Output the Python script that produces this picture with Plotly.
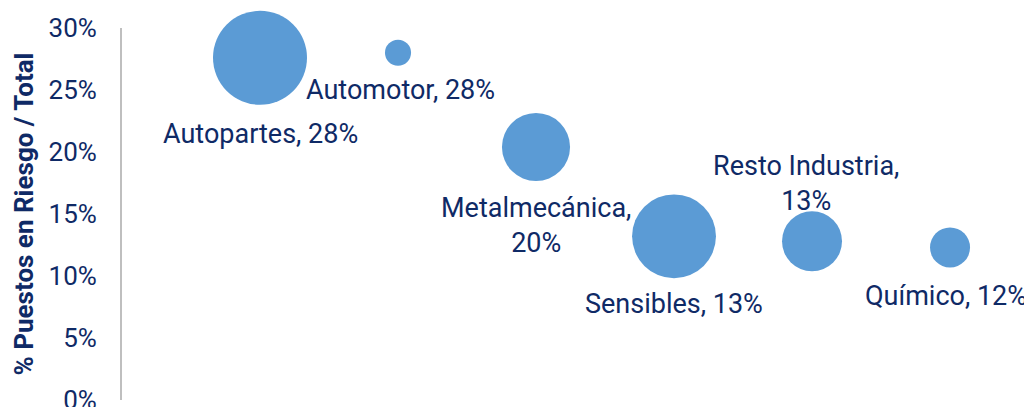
import plotly.graph_objects as go

# ---- data ----
categorias = ["Autopartes", "Automotor", "Metalmecánica", "Sensibles", "Resto Industria", "Químico"]
riesgo_pct = [27.6, 28.0, 20.4, 13.2, 12.8, 12.3]       # % puestos en riesgo / total
peso = [22.1, 1.7, 11.6, 17.6, 9.0, 4.0]                  # bubble size weight
x_pos = [1, 2, 3, 4, 5, 6]
y_ticks = [0, 5, 10, 15, 20, 25, 30]

# label layout (style): line wrap and pixel offset from bubble centre
wrap = [False, False, True, False, True, False]
label_dy = [-76, -37, -78, -68, 58, -49]
label_dx = [0, 2, 0, 0, -6, -4]

etiquetas = [f"{c},{'<br>' if w else ' '}{round(v)}%" for c, v, w in zip(categorias, riesgo_pct, wrap)]

NAVY = "#0f2a66"
max_diam = 94
sizeref = 2.0 * max(peso) / (max_diam ** 2)

fig = go.Figure()
fig.add_trace(go.Scatter(
    x=x_pos,
    y=[v / 100 for v in riesgo_pct],
    mode="markers",
    marker=dict(size=peso, sizemode="area", sizeref=sizeref, color="#5b9bd5",
                line=dict(width=0), opacity=1),
    cliponaxis=False,
    hoverinfo="skip",
))

for xv, yv, txt, dy, dx in zip(x_pos, riesgo_pct, etiquetas, label_dy, label_dx):
    fig.add_annotation(
        x=xv, y=yv / 100, text=txt, showarrow=False,
        xanchor="center", yanchor="middle", align="center",
        xshift=dx, yshift=dy,
        font=dict(family="Roboto", size=27, color=NAVY),
    )

# page body has an 8px margin: compensate in the figure margins
fig.update_layout(
    width=1032, height=407,
    margin=dict(l=114, r=8, t=20, b=15),
    paper_bgcolor="white", plot_bgcolor="white",
    showlegend=False,
    font=dict(family="Roboto", color=NAVY),
    xaxis=dict(range=[0, 6.594], visible=False, showgrid=False, zeroline=False),
    yaxis=dict(
        range=[0, 0.30],
        automargin=False,
        tickvals=[t / 100 for t in y_ticks],
        ticktext=[f"{t}%" for t in y_ticks],
        tickfont=dict(family="Roboto", size=26, color=NAVY),
        ticks="", ticklabelstandoff=18, ticklabeloverflow="allow",
        showgrid=False, zeroline=False,
        showline=True, linecolor="#bfbfbf", linewidth=2,
        title=dict(text="<b>% Puestos en Riesgo / Total</b>",
                   font=dict(family="Roboto", size=26, color=NAVY), standoff=7),
    ),
)

fig.write_html("out.html")
